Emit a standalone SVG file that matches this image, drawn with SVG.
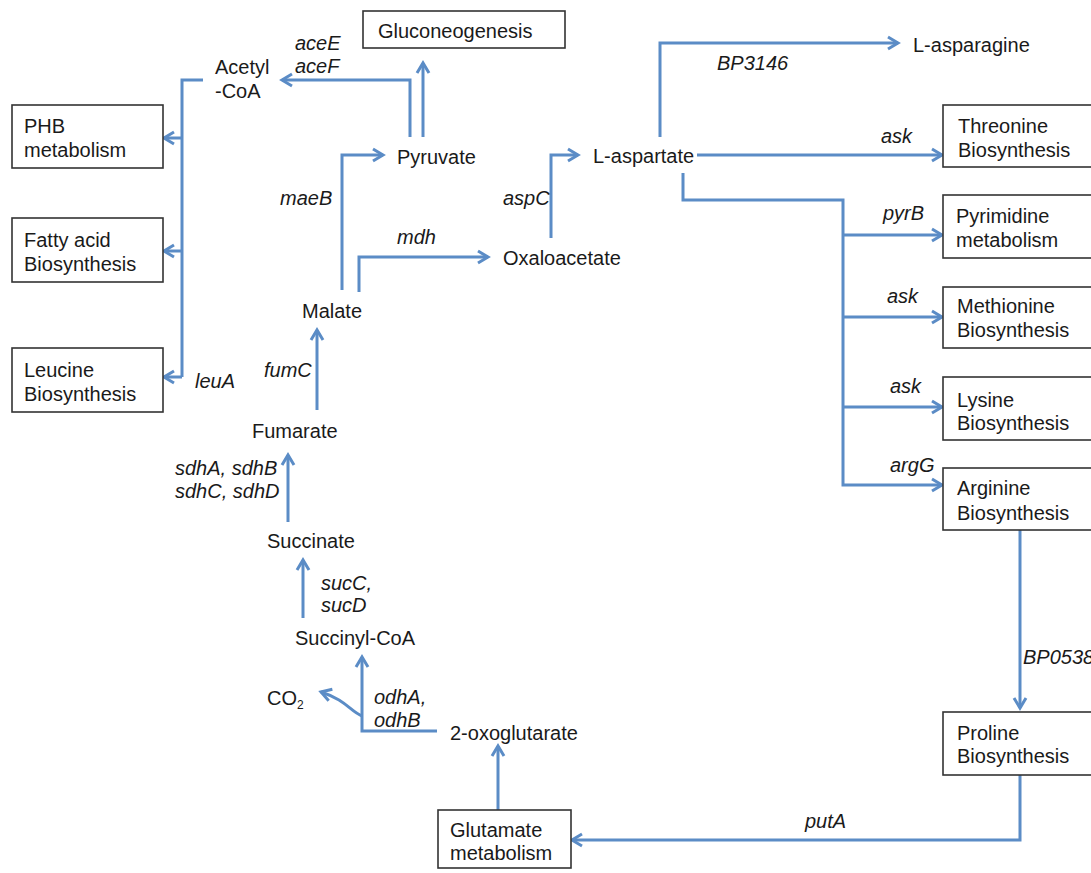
<svg xmlns="http://www.w3.org/2000/svg" width="1091" height="873" viewBox="0 0 1091 873">
<style>
text{font-family:"Liberation Sans",Arial,sans-serif;font-size:20px;fill:#1a1a1a}
.g{font-style:italic}
.box{fill:#fff;stroke:#333;stroke-width:1.6}
.c{fill:none;stroke:#5b8cc6;stroke-width:3;marker-end:url(#ah)}
.n{fill:none;stroke:#5b8cc6;stroke-width:3}
</style>
<defs>
<marker id="ah" markerUnits="userSpaceOnUse" markerWidth="16" markerHeight="16" viewBox="0 0 16 16" refX="13" refY="8" orient="auto">
<path d="M3,2 L13,8 L3,14" fill="none" stroke="#5b8cc6" stroke-width="3"/>
</marker>
</defs>
<rect width="1091" height="873" fill="#fff"/>
<g id="connectors">
<path class="n" d="M203,80 L182,80 L182,138"/>
<path class="c" d="M182,377 L164,377"/>
<path class="n" d="M182,138 L182,377"/>
<path class="c" d="M182,138 L164,138"/>
<path class="c" d="M182,251 L164,251"/>
<path class="c" d="M410,137 L410,80 L282,80"/>
<path class="c" d="M423,137 L423,63"/>
<path class="c" d="M342,290 L342,155 L383,155"/>
<path class="c" d="M359,292 L359,257 L488,257"/>
<path class="c" d="M551,238 L551,155 L578,155"/>
<path class="c" d="M660,137 L660,43 L898,43"/>
<path class="c" d="M697,155 L942,155"/>
<path class="c" d="M683,173 L683,200 L843,200 L843,485 L942,485"/>
<path class="c" d="M843,235 L942,235"/>
<path class="c" d="M843,317 L942,317"/>
<path class="c" d="M843,407 L942,407"/>
<path class="c" d="M1020,530 L1020,708"/>
<path class="c" d="M1020,775 L1020,840 L572,840"/>
<path class="c" d="M498,810 L498,746"/>
<path class="c" d="M437,731 L362,731 L362,657"/>
<path class="c" d="M362,716 C350,711 346,700 321,692"/>
<path class="c" d="M303,618 L303,560"/>
<path class="c" d="M288,522 L288,455"/>
<path class="c" d="M317,410 L317,330"/>
</g>
<g id="gluconeogenesis"><rect class="box" x="363" y="11" width="202" height="37"/><text x="378" y="38">Gluconeogenesis</text></g>
<g id="acetylcoa"><text x="215" y="74">Acetyl</text><text x="215" y="98">-CoA</text></g>
<g id="phb"><rect class="box" x="12" y="105" width="151" height="63"/><text x="24" y="133">PHB</text><text x="24" y="157">metabolism</text></g>
<g id="fattyacid"><rect class="box" x="12" y="218" width="151" height="64"/><text x="24" y="247">Fatty acid</text><text x="24" y="271">Biosynthesis</text></g>
<g id="leucine"><rect class="box" x="12" y="348" width="151" height="64"/><text x="24" y="377">Leucine</text><text x="24" y="401">Biosynthesis</text></g>
<g id="pyruvate"><text x="397" y="164">Pyruvate</text></g>
<g id="malate"><text x="302" y="318">Malate</text></g>
<g id="oxaloacetate"><text x="503" y="265">Oxaloacetate</text></g>
<g id="laspartate"><text x="593" y="163">L-aspartate</text></g>
<g id="lasparagine"><text x="913" y="52">L-asparagine</text></g>
<g id="fumarate"><text x="252" y="438">Fumarate</text></g>
<g id="succinate"><text x="267" y="548">Succinate</text></g>
<g id="succinylcoa"><text x="295" y="645">Succinyl-CoA</text></g>
<g id="co2"><text x="267" y="705">CO<tspan font-size="12" dy="4">2</tspan></text></g>
<g id="oxoglutarate"><text x="450" y="740">2-oxoglutarate</text></g>
<g id="glutamate"><rect class="box" x="438" y="810" width="133" height="58"/><text x="450" y="837">Glutamate</text><text x="450" y="860">metabolism</text></g>
<g id="threonine"><rect class="box" x="943" y="105" width="160" height="62"/><text x="958" y="133">Threonine</text><text x="958" y="157">Biosynthesis</text></g>
<g id="pyrimidine"><rect class="box" x="943" y="195" width="160" height="63"/><text x="956" y="223">Pyrimidine</text><text x="956" y="247">metabolism</text></g>
<g id="methionine"><rect class="box" x="943" y="287" width="160" height="61"/><text x="957" y="313">Methionine</text><text x="957" y="337">Biosynthesis</text></g>
<g id="lysine"><rect class="box" x="943" y="377" width="160" height="63"/><text x="957" y="407">Lysine</text><text x="957" y="430">Biosynthesis</text></g>
<g id="arginine"><rect class="box" x="943" y="468" width="160" height="62"/><text x="957" y="495">Arginine</text><text x="957" y="520">Biosynthesis</text></g>
<g id="proline"><rect class="box" x="943" y="712" width="160" height="63"/><text x="957" y="740">Proline</text><text x="957" y="763">Biosynthesis</text></g>
<g id="labels">
<text class="g" x="295" y="50">aceE</text>
<text class="g" x="295" y="73">aceF</text>
<text class="g" x="280" y="205">maeB</text>
<text class="g" x="397" y="244">mdh</text>
<text class="g" x="503" y="205">aspC</text>
<text class="g" x="717" y="70">BP3146</text>
<text class="g" x="881" y="143">ask</text>
<text class="g" x="883" y="220">pyrB</text>
<text class="g" x="887" y="303">ask</text>
<text class="g" x="890" y="393">ask</text>
<text class="g" x="890" y="472">argG</text>
<text class="g" x="1023" y="664">BP0538</text>
<text class="g" x="805" y="828">putA</text>
<text class="g" x="264" y="377">fumC</text>
<text class="g" x="195" y="388">leuA</text>
<text class="g" x="175" y="475">sdhA, sdhB</text>
<text class="g" x="175" y="498">sdhC, sdhD</text>
<text class="g" x="321" y="590">sucC,</text>
<text class="g" x="321" y="612">sucD</text>
<text class="g" x="374" y="704">odhA,</text>
<text class="g" x="374" y="727">odhB</text>
</g>
</svg>
